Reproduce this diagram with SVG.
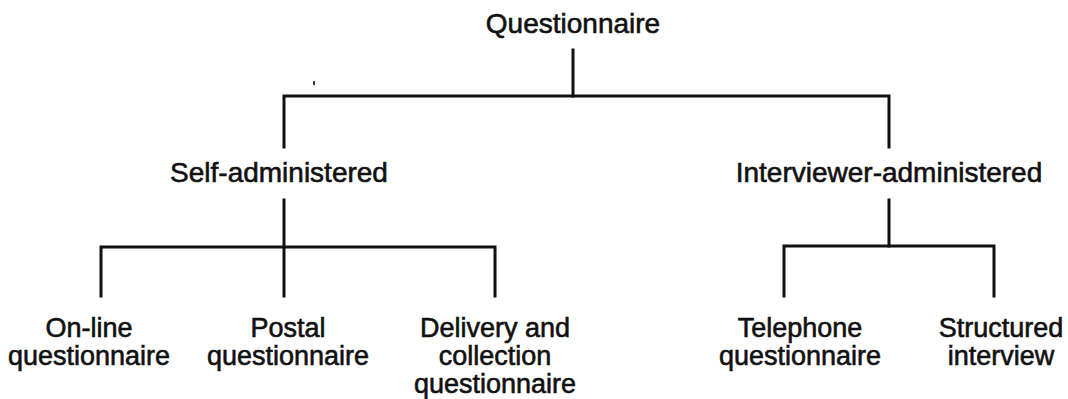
<svg xmlns="http://www.w3.org/2000/svg" width="1068" height="399" viewBox="0 0 1068 399">
  <style>
    .lbl { font-family: "Liberation Sans", Arial, sans-serif; font-size: 28px; fill: #111; stroke: #111; stroke-width: 0.6px; text-anchor: middle; }
    .leaf { font-size: 27px; }
    .wire { fill: none; stroke: #111; stroke-width: 3; stroke-linecap: square; stroke-linejoin: miter; }
  </style>
  <rect width="1068" height="399" fill="#fff"/>

  <!-- connectors of the tree -->
  <g id="connectors" class="wire">
    <path d="M573 50 V96"/>
    <path d="M284 147 V96 H889 V147"/>
    <path d="M284 200 V296"/>
    <path d="M101 296 V247 H495 V296"/>
    <path d="M889 200 V246"/>
    <path d="M784 296 V246 H994 V296"/>
  </g>
  <!-- small ink speck near the top bar -->
  <ellipse cx="314" cy="83" rx="1" ry="2.5" fill="#222"/>

  <g id="node-questionnaire">
    <text class="lbl" x="573" y="33">Questionnaire</text>
  </g>
  <g id="node-self">
    <text class="lbl" x="279" y="182">Self-administered</text>
  </g>
  <g id="node-interviewer">
    <text class="lbl" x="889" y="182">Interviewer-administered</text>
  </g>
  <g id="node-online">
    <text class="lbl leaf" x="89" y="337">On-line</text>
    <text class="lbl leaf" x="89" y="365">questionnaire</text>
  </g>
  <g id="node-postal">
    <text class="lbl leaf" x="288" y="337">Postal</text>
    <text class="lbl leaf" x="288" y="365">questionnaire</text>
  </g>
  <g id="node-delivery">
    <text class="lbl leaf" x="495" y="337">Delivery and</text>
    <text class="lbl leaf" x="495" y="365">collection</text>
    <text class="lbl leaf" x="495" y="393">questionnaire</text>
  </g>
  <g id="node-telephone">
    <text class="lbl leaf" x="800" y="337">Telephone</text>
    <text class="lbl leaf" x="800" y="365">questionnaire</text>
  </g>
  <g id="node-structured">
    <text class="lbl leaf" x="1001" y="337">Structured</text>
    <text class="lbl leaf" x="1001" y="365">interview</text>
  </g>
</svg>
